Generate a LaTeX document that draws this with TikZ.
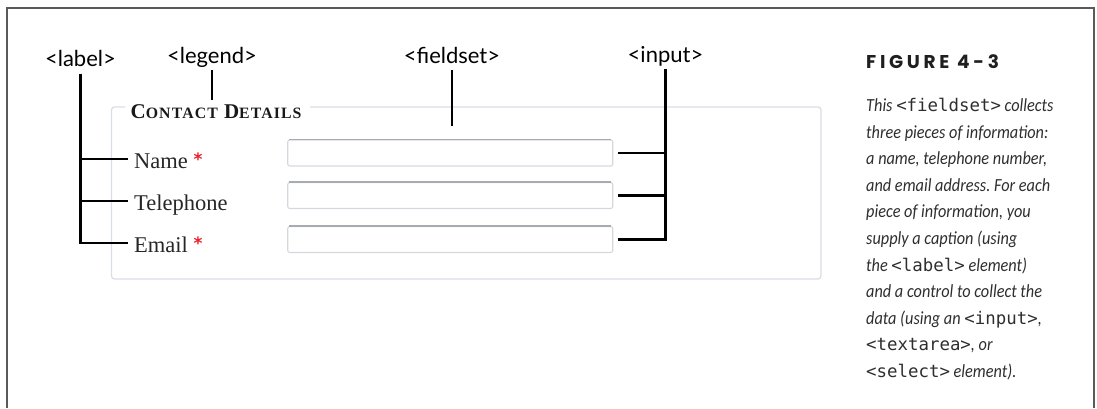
\documentclass[tikz,border=0pt]{standalone}
\usepackage{fontspec}
\setmainfont{Liberation Serif}
\newfontfamily\tagfont{Lato}
\newfontfamily\capfont[FakeStretch=0.88]{Carlito}
\newfontfamily\figfont[LetterSpace=20]{Poppins}
\newfontfamily\codefont{DejaVu Sans Mono}
\newfontfamily\legendfont[LetterSpace=7]{Liberation Serif}
\newfontfamily\starfont{DejaVu Sans}
\frenchspacing
\definecolor{framegray}{HTML}{5A5A5A}
\definecolor{fsgray}{HTML}{D9DEE5}
\definecolor{boxgray}{HTML}{D4D8DE}
\definecolor{boxtop}{HTML}{A8ABB0}
\definecolor{formtext}{HTML}{262626}
\definecolor{captext}{HTML}{2E2E2E}
\definecolor{starred}{HTML}{E8202A}
\newcommand\bigsc[1]{{\fontsize{21}{21}\selectfont #1}}
\newcommand\smlsc[1]{{\fontsize{15.8}{15.8}\selectfont #1}}
\newcommand\cd[1]{{\codefont\upshape\fontsize{17.4}{20}\selectfont #1}}
\newcommand\reqstar{{\color{starred}\starfont\bfseries\fontsize{17}{17}\selectfont\raisebox{3pt}{*}}}
\tikzset{
  bracket/.style={line width=2.4pt, black},
  tagtext/.style={font=\tagfont\fontsize{22}{24}\selectfont, text=black, inner sep=1pt, text depth=6pt, anchor=base},
  formlabel/.style={font=\fontsize{22.5}{26}\selectfont, text=formtext, inner xsep=0pt, inner ysep=0pt, text height=18pt, text depth=0pt, anchor=west},
  inbox/.style={draw=boxgray, line width=1.1pt, rounded corners=2pt, minimum width=325pt, minimum height=26pt, inner sep=0pt},
  boxtopline/.style={draw=boxtop, line width=1.2pt},
  fsline/.style={draw=fsgray, line width=1.3pt, rounded corners=3pt},
  frameline/.style={draw=framegray, line width=2pt},
  capline/.style={anchor=base west, inner sep=0pt, text=captext, font=\capfont\itshape\fontsize{18.5}{22}\selectfont}
}
\begin{document}
\begin{tikzpicture}[x=1pt,y=-1pt]
\useasboundingbox (0,0) rectangle (1097,408);
% outer frame (open at the bottom)
\draw[frameline] (6.5,408) -- (6.5,7.5) -- (1094,7.5) -- (1094,408);

% fieldset
\draw[fsline] (125,107) -- (111.5,107) -- (111.5,279) -- (821,279) -- (821,107) -- (310,107);
\node[anchor=base west, inner xsep=0pt, inner ysep=4pt, text=black!90, font=\legendfont\bfseries] (legend) at (130.5,118)
  {\bigsc{C}\smlsc{ONTACT}\hspace{3pt} \bigsc{D}\smlsc{ETAILS}};

% form labels
\node[formlabel] (lname) at (134,159) {Name \reqstar};
\node[formlabel] (ltel) at (134,201) {Telephone};
\node[formlabel] (lemail) at (134,243) {Email \reqstar};

% input boxes
\node[inbox] (b1) at (450.25,153) {};
\node[inbox] (b2) at (450.25,195.5) {};
\node[inbox] (b3) at (450.25,239.5) {};
\draw[boxtopline] ([xshift=2pt]b1.north west) -- ([xshift=-2pt]b1.north east);
\draw[boxtopline] ([xshift=2pt]b2.north west) -- ([xshift=-2pt]b2.north east);
\draw[boxtopline] ([xshift=2pt]b3.north west) -- ([xshift=-2pt]b3.north east);

% tag labels
\node[tagtext] (tlabel) at (80.5,66.5) {<label>};
\node[tagtext] (tlegend) at (212,63) {<legend>};
\node[tagtext] (tfieldset) at (452,63) {<fieldset>};
\node[tagtext] (tinput) at (665.5,62) {<input>};
\coordinate (fspoint) at (452,126);

% connectors
\draw[bracket] (tlabel.south) |- ([xshift=-6pt]lemail.west);
\draw[bracket, shorten <=6pt] (lname.west) -- (lname.west -| tlabel.south);
\draw[bracket, shorten <=6pt] (ltel.west) -- (ltel.west -| tlabel.south);
\draw[bracket] (tlegend.south) -- (tlegend.south |- legend.north);
\draw[bracket] (tfieldset.south) -- (fspoint);
\draw[bracket, shorten >=5pt] (tinput.south) |- (b3.east);
\draw[bracket, shorten <=5pt] (b1.east) -- (b1.east -| tinput.south);
\draw[bracket, shorten <=5pt] (b2.east) -- (b2.east -| tinput.south);

% caption
\node[anchor=base west, inner sep=0pt, text=black!88, font=\figfont\bfseries\fontsize{18.5}{20}\selectfont] (figtitle) at (866,68) {FIGURE 4-3};
\foreach \ln [count=\i from 0] in {
   {This \cd{<fieldset>} collects},
   {three pieces of information:},
   {a name, telephone number,},
   {and email address. For each},
   {piece of information, you},
   {supply a caption (using},
   {the \cd{<label>} element)},
   {and a control to collect the},
   {data (using an \cd{<input>},},
   {\cd{<textarea>}, or},
   {\cd{<select>} element).}}
  \node[capline] (cap\i) at (866,{111.5+26.6*\i}) {\ln};
\end{tikzpicture}
\end{document}
